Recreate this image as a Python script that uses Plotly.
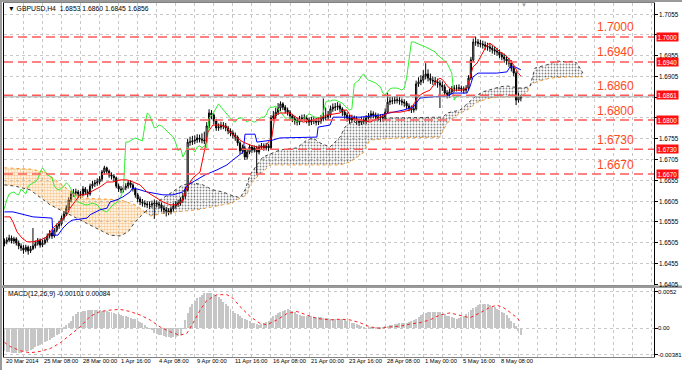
import plotly.graph_objects as go

# ---------------- data ----------------
OPEN = [1.6503,1.6507,1.6511,1.6516,1.6509,1.6514,1.6504,1.6497,1.6492,1.6487,
        1.6494,1.6485,1.6490,1.6497,1.6502,1.6511,1.6499,1.6504,1.6511,1.6521,
        1.6528,1.6521,1.6535,1.6545,1.6550,1.6564,1.6574,1.6588,1.6608,1.6622,
        1.6625,1.6627,1.6622,1.6620,1.6634,1.6627,1.6622,1.6641,1.6646,1.6649,
        1.6651,1.6658,1.6675,1.6685,1.6677,1.6668,1.6665,1.6661,1.6641,1.6634,
        1.6632,1.6637,1.6641,1.6649,1.6644,1.6634,1.6620,1.6610,1.6603,1.6600,
        1.6598,1.6596,1.6596,1.6598,1.6600,1.6598,1.6596,1.6588,1.6584,1.6581,
        1.6579,1.6586,1.6593,1.6598,1.6600,1.6608,1.6617,1.6632,1.6747,1.6747,
        1.6750,1.6752,1.6757,1.6754,1.6752,1.6750,1.6786,1.6817,1.6812,1.6798,
        1.6781,1.6783,1.6788,1.6786,1.6781,1.6774,1.6769,1.6764,1.6759,1.6745,
        1.6726,1.6733,1.6711,1.6723,1.6735,1.6728,1.6733,1.6723,1.6735,1.6738,
        1.6733,1.6738,1.6733,1.6805,1.6810,1.6819,1.6829,1.6839,1.6831,1.6824,
        1.6819,1.6810,1.6803,1.6798,1.6795,1.6803,1.6805,1.6805,1.6800,1.6795,
        1.6800,1.6798,1.6795,1.6798,1.6803,1.6807,1.6807,1.6812,1.6827,1.6831,
        1.6831,1.6834,1.6827,1.6819,1.6812,1.6805,1.6800,1.6805,1.6803,1.6798,
        1.6795,1.6800,1.6798,1.6805,1.6810,1.6815,1.6812,1.6807,1.6807,1.6805,
        1.6807,1.6819,1.6843,1.6846,1.6846,1.6848,1.6848,1.6846,1.6843,1.6841,
        1.6834,1.6829,1.6824,1.6827,1.6887,1.6892,1.6896,1.6906,1.6911,1.6901,
        1.6896,1.6894,1.6892,1.6889,1.6884,1.6880,1.6865,1.6860,1.6868,1.6875,
        1.6877,1.6877,1.6877,1.6875,1.6872,1.6877,1.6901,1.6945,1.6988,1.6988,
        1.6985,1.6983,1.6981,1.6978,1.6976,1.6973,1.6969,1.6966,1.6964,1.6957,
        1.6952,1.6947,1.6942,1.6937,1.6925,1.6913,1.6848,1.6853]
HIGH = [1.6515,1.6518,1.6524,1.6522,1.6519,1.6518,1.6510,1.6503,1.6499,1.6500,
        1.6498,1.6497,1.6540,1.6510,1.6516,1.6515,1.6512,1.6517,1.6527,1.6535,
        1.6533,1.6540,1.6551,1.6558,1.6570,1.6580,1.6595,1.6614,1.6630,1.6634,
        1.6635,1.6632,1.6629,1.6641,1.6639,1.6633,1.6647,1.6654,1.6656,1.6660,
        1.6665,1.6680,1.6690,1.6688,1.6681,1.6674,1.6670,1.6664,1.6647,1.6641,
        1.6644,1.6648,1.6656,1.6655,1.6648,1.6638,1.6625,1.6616,1.6610,1.6607,
        1.6605,1.6604,1.6606,1.6609,1.6607,1.6604,1.6601,1.6594,1.6591,1.6588,
        1.6592,1.6600,1.6605,1.6608,1.6614,1.6624,1.6640,1.6755,1.6760,1.6762,
        1.6763,1.6766,1.6765,1.6768,1.6772,1.6795,1.6826,1.6824,1.6816,1.6803,
        1.6792,1.6796,1.6795,1.6793,1.6786,1.6780,1.6775,1.6770,1.6763,1.6749,
        1.6741,1.6738,1.6729,1.6742,1.6740,1.6739,1.6738,1.6741,1.6745,1.6744,
        1.6745,1.6743,1.6812,1.6822,1.6830,1.6841,1.6845,1.6843,1.6836,1.6830,
        1.6824,1.6815,1.6810,1.6806,1.6810,1.6813,1.6814,1.6811,1.6806,1.6808,
        1.6809,1.6805,1.6806,1.6812,1.6852,1.6830,1.6822,1.6835,1.6840,1.6841,
        1.6843,1.6840,1.6831,1.6824,1.6818,1.6812,1.6813,1.6811,1.6809,1.6804,
        1.6808,1.6807,1.6812,1.6817,1.6823,1.6821,1.6818,1.6816,1.6814,1.6815,
        1.6828,1.6866,1.6855,1.6856,1.6857,1.6858,1.6856,1.6852,1.6850,1.6846,
        1.6840,1.6835,1.6836,1.6895,1.6903,1.6908,1.6920,1.6937,1.6922,1.6912,
        1.6905,1.6904,1.6900,1.6896,1.6893,1.6886,1.6872,1.6876,1.6882,1.6884,
        1.6885,1.6886,1.6883,1.6881,1.6884,1.6908,1.6952,1.6996,1.7001,1.6995,
        1.6993,1.6991,1.6989,1.6986,1.6984,1.6980,1.6977,1.6974,1.6970,1.6964,
        1.6960,1.6955,1.6950,1.6944,1.6931,1.6918,1.6866,1.6860]
LOW = [1.6496,1.6501,1.6506,1.6503,1.6502,1.6498,1.6489,1.6485,1.6478,1.6482,
       1.6476,1.6480,1.6487,1.6491,1.6498,1.6493,1.6494,1.6500,1.6506,1.6515,
       1.6514,1.6517,1.6530,1.6538,1.6546,1.6558,1.6569,1.6583,1.6602,1.6615,
       1.6618,1.6612,1.6611,1.6616,1.6620,1.6614,1.6618,1.6635,1.6639,1.6642,
       1.6645,1.6652,1.6668,1.6670,1.6661,1.6657,1.6652,1.6636,1.6627,1.6624,
       1.6626,1.6631,1.6635,1.6637,1.6628,1.6613,1.6602,1.6595,1.6592,1.6590,
       1.6588,1.6586,1.6589,1.6562,1.6590,1.6587,1.6580,1.6574,1.6568,1.6571,
       1.6573,1.6580,1.6587,1.6591,1.6594,1.6601,1.6610,1.6628,1.6738,1.6740,
       1.6742,1.6745,1.6746,1.6744,1.6742,1.6746,1.6780,1.6802,1.6790,1.6774,
       1.6774,1.6777,1.6778,1.6773,1.6766,1.6761,1.6756,1.6750,1.6738,1.6718,
       1.6719,1.6704,1.6705,1.6718,1.6721,1.6722,1.6668,1.6717,1.6728,1.6726,
       1.6727,1.6725,1.6729,1.6798,1.6803,1.6812,1.6822,1.6824,1.6816,1.6811,
       1.6802,1.6795,1.6789,1.6787,1.6788,1.6796,1.6797,1.6792,1.6786,1.6788,
       1.6790,1.6787,1.6788,1.6791,1.6797,1.6799,1.6800,1.6806,1.6820,1.6822,
       1.6824,1.6819,1.6810,1.6803,1.6796,1.6791,1.6793,1.6795,1.6789,1.6786,
       1.6788,1.6790,1.6791,1.6798,1.6803,1.6804,1.6799,1.6798,1.6796,1.6797,
       1.6800,1.6815,1.6836,1.6838,1.6839,1.6840,1.6837,1.6835,1.6832,1.6826,
       1.6821,1.6817,1.6818,1.6823,1.6880,1.6884,1.6889,1.6898,1.6893,1.6887,
       1.6885,1.6883,1.6878,1.6829,1.6870,1.6856,1.6852,1.6854,1.6862,1.6868,
       1.6869,1.6870,1.6867,1.6864,1.6866,1.6872,1.6896,1.6940,1.6979,1.6976,
       1.6975,1.6972,1.6969,1.6967,1.6964,1.6960,1.6957,1.6955,1.6949,1.6944,
       1.6938,1.6933,1.6928,1.6917,1.6905,1.6836,1.6842,1.6845]
CLOSE = [1.6507,1.6511,1.6516,1.6509,1.6514,1.6504,1.6497,1.6492,1.6487,1.6494,
         1.6485,1.6490,1.6497,1.6502,1.6511,1.6499,1.6504,1.6511,1.6521,1.6528,
         1.6521,1.6535,1.6545,1.6550,1.6564,1.6574,1.6588,1.6608,1.6622,1.6625,
         1.6627,1.6622,1.6620,1.6634,1.6627,1.6622,1.6641,1.6646,1.6649,1.6651,
         1.6658,1.6675,1.6685,1.6677,1.6668,1.6665,1.6661,1.6641,1.6634,1.6632,
         1.6637,1.6641,1.6649,1.6644,1.6634,1.6620,1.6610,1.6603,1.6600,1.6598,
         1.6596,1.6596,1.6598,1.6600,1.6598,1.6596,1.6588,1.6584,1.6581,1.6579,
         1.6586,1.6593,1.6598,1.6600,1.6608,1.6617,1.6632,1.6747,1.6747,1.6750,
         1.6752,1.6757,1.6754,1.6752,1.6750,1.6786,1.6817,1.6812,1.6798,1.6781,
         1.6783,1.6788,1.6786,1.6781,1.6774,1.6769,1.6764,1.6759,1.6745,1.6726,
         1.6733,1.6711,1.6723,1.6735,1.6728,1.6733,1.6723,1.6735,1.6738,1.6733,
         1.6738,1.6733,1.6805,1.6810,1.6819,1.6829,1.6839,1.6831,1.6824,1.6819,
         1.6810,1.6803,1.6798,1.6795,1.6803,1.6805,1.6805,1.6800,1.6795,1.6800,
         1.6798,1.6795,1.6798,1.6803,1.6807,1.6807,1.6812,1.6827,1.6831,1.6831,
         1.6834,1.6827,1.6819,1.6812,1.6805,1.6800,1.6805,1.6803,1.6798,1.6795,
         1.6800,1.6798,1.6805,1.6810,1.6815,1.6812,1.6807,1.6807,1.6805,1.6807,
         1.6819,1.6843,1.6846,1.6846,1.6848,1.6848,1.6846,1.6843,1.6841,1.6834,
         1.6829,1.6824,1.6827,1.6887,1.6892,1.6896,1.6906,1.6911,1.6901,1.6896,
         1.6894,1.6892,1.6889,1.6884,1.6880,1.6865,1.6860,1.6868,1.6875,1.6877,
         1.6877,1.6877,1.6875,1.6872,1.6877,1.6901,1.6945,1.6988,1.6988,1.6985,
         1.6983,1.6981,1.6978,1.6976,1.6973,1.6969,1.6966,1.6964,1.6957,1.6952,
         1.6947,1.6942,1.6937,1.6925,1.6913,1.6848,1.6858,1.6856]

# Tenkan-sen (red) vertices: bar index, price
TENKAN_BARS = [0,2.4,3.6,5.3,7.4,9.5,12,15,17.9,20.4,22.5,26.3,27.6,29.7,31.8,33.9,36,38.1,40.2,43.1,
               45.6,48.6,51.5,54,57,59.9,64.1,66.6,69.6,72.5,74.6,76.7,79.2,82.2,84.3,85.5,87.6,90.6,93.5,94.8,
               97.7,100.3,103.2,106.1,109.5,112.4,113.7,115.8,120,124.2,125.5,129.7,132.6,135.5,141,142.3,143.9,146,149.4,153.6,
               157.8,162,166.2,170.4,172.5,173.8,175.9,178.8,181.8,183,184.3,186.4,188.5,192.3,194.4,195.6,196.9,198.6,200.7,202.8,
               204,206.1,208.2,210.3,212.4,214.5,215.8,217]
TENKAN_VALUES = [1.6567,1.6567,1.6555,1.6531,1.6516,1.6507,1.6507,1.6511,1.6519,1.6540,1.6552,1.6572,1.6588,1.6603,1.6620,1.6620,1.6627,1.6632,1.6639,1.6651,
                 1.6651,1.6656,1.6656,1.6651,1.6644,1.6627,1.6612,1.6603,1.6596,1.6596,1.6603,1.6637,1.6661,1.6675,1.6733,1.6771,1.6788,1.6788,1.6783,1.6771,
                 1.6757,1.6747,1.6740,1.6735,1.6735,1.6759,1.6812,1.6817,1.6817,1.6800,1.6795,1.6800,1.6805,1.6812,1.6817,1.6824,1.6824,1.6805,1.6800,1.6795,
                 1.6807,1.6819,1.6819,1.6824,1.6843,1.6856,1.6865,1.6872,1.6896,1.6901,1.6896,1.6880,1.6872,1.6872,1.6877,1.6904,1.6928,1.6937,1.6961,1.6981,
                 1.6985,1.6976,1.6964,1.6957,1.6945,1.6928,1.6913,1.6906]

# Kijun-sen (blue) vertices
KIJUN_BARS = [0,3.6,12,20,20.4,22.5,24.6,26.7,28.4,31.8,34.7,36,40.2,43.1,44.4,47.3,49.8,52.8,54,57,
              59.9,66.6,70.8,75,77.1,79.2,82.2,84.3,89.3,93.5,96,100.3,101.1,105.3,106.1,112.9,115.8,131.3,131.8,136.8,
              138.1,149.4,157.8,162,167.5,171.7,174.6,180.1,186,188.5,194.4,195.6,196.9,199,206.9,211.2,212.4,214.5,217]
KIJUN_VALUES = [1.6579,1.6579,1.6567,1.6564,1.6523,1.6523,1.6540,1.6552,1.6559,1.6562,1.6564,1.6572,1.6584,1.6588,1.6603,1.6608,1.6615,1.6627,1.6637,1.6632,
                1.6627,1.6620,1.6620,1.6627,1.6644,1.6651,1.6661,1.6668,1.6680,1.6692,1.6704,1.6723,1.6766,1.6766,1.6747,1.6752,1.6757,1.6759,1.6783,1.6788,
                1.6807,1.6807,1.6812,1.6817,1.6824,1.6831,1.6853,1.6856,1.6858,1.6865,1.6865,1.6880,1.6904,1.6913,1.6913,1.6916,1.6928,1.6928,1.6921]

CHIKOU_SHIFT = 26

# Kumo, bearish part (Span B above Span A)
KUMO_DN_B_BARS = [0,10.8,17.1,21.3,25.5,29.7,33.9,40.2,48.6,54.9,59.1]
KUMO_DN_B_VALUES = [1.6685,1.6682,1.6675,1.6656,1.6637,1.6620,1.6612,1.6610,1.6608,1.6596,1.6579]
KUMO_DN_A_BARS = [0,4.5,10.8,15,19.2,23.4,27.6,31.8,36,40.2,44.4,48.6,52,54.9,59.1]
KUMO_DN_A_VALUES = [1.6644,1.6641,1.6632,1.6615,1.6596,1.6584,1.6572,1.6560,1.6547,1.6535,1.6523,1.6521,1.6531,1.6555,1.6579]
# Kumo, bullish part (Span A above Span B)
KUMO_UP_A_BARS = [59.1,61.2,66.6,70.8,75,79.2,83.4,87.6,91.8,94.8,99,101.1,103.2,106.1,108.6,115.8,122.9,127.1,129.7,132.6,
                  136.8,141,143.1,145.2,149.4,153.6,160.8,173.4,184.3,186,191.4,198.6,201.1,208.2,211.2,216.6,220.8,222.9,228,232.2,
                  236.4,238.9,240.6,243.1]
KUMO_UP_A_VALUES = [1.6579,1.6591,1.6612,1.6627,1.6644,1.6649,1.6644,1.6632,1.6627,1.6620,1.6613,1.6632,1.6668,1.6692,1.6711,1.6728,1.6733,1.6752,1.6757,1.6745,
                    1.6735,1.6759,1.6783,1.6793,1.6795,1.6798,1.6805,1.6807,1.6807,1.6817,1.6824,1.6860,1.6868,1.6880,1.6882,1.6877,1.6880,1.6925,1.6933,1.6942,
                    1.6940,1.6942,1.6937,1.6913]
KUMO_UP_B_BARS = [59.1,61.2,66.6,80.9,91.8,95.6,97.7,101.9,103.2,106.1,108.6,111.6,141,145.2,150.7,153.6,164.9,183,186,191.4,
                  194.4,198.6,204,209.5,215.4,219.6,220.8,223.7,229.3,236.4,243.1]
KUMO_UP_B_VALUES = [1.6579,1.6569,1.6576,1.6584,1.6596,1.6600,1.6608,1.6620,1.6644,1.6663,1.6675,1.6692,1.6692,1.6699,1.6721,1.6752,1.6757,1.6759,1.6793,1.6817,
                    1.6824,1.6843,1.6853,1.6856,1.6856,1.6865,1.6884,1.6892,1.6901,1.6904,1.6904]

MACD_HIST = [-0.0033,-0.0034,-0.0034,-0.0035,-0.0035,-0.0035,-0.0035,-0.0035,-0.0034,-0.0033,
             -0.0032,-0.0031,-0.0029,-0.0027,-0.0025,-0.0024,-0.0022,-0.0020,-0.0018,-0.0016,
             -0.0014,-0.0012,-0.0010,-0.0008,-0.0005,0.0001,0.0005,0.0008,0.0011,0.0017,
             0.0021,0.0023,0.0024,0.0025,0.0025,0.0026,0.0026,0.0026,0.0026,0.0026,
             0.0026,0.0025,0.0025,0.0025,0.0024,0.0023,0.0022,0.0021,0.0020,0.0019,
             0.0018,0.0017,0.0016,0.0015,0.0014,0.0013,0.0011,0.0009,0.0007,0.0005,
             0.0002,0.0000,-0.0003,-0.0006,-0.0008,-0.0009,-0.0010,-0.0011,-0.0012,-0.0013,
             -0.0014,-0.0013,-0.0012,-0.0011,-0.0009,-0.0001,0.0012,0.0022,0.0031,0.0035,
             0.0039,0.0043,0.0045,0.0048,0.0050,0.0050,0.0051,0.0050,0.0049,0.0047,
             0.0045,0.0042,0.0038,0.0035,0.0032,0.0028,0.0025,0.0022,0.0020,0.0017,
             0.0015,0.0014,0.0012,0.0010,0.0008,0.0007,0.0006,0.0005,0.0006,0.0007,
             0.0009,0.0011,0.0015,0.0017,0.0019,0.0022,0.0024,0.0025,0.0026,0.0027,
             0.0026,0.0025,0.0023,0.0021,0.0019,0.0018,0.0018,0.0017,0.0017,0.0017,
             0.0016,0.0016,0.0016,0.0016,0.0015,0.0015,0.0015,0.0014,0.0014,0.0014,
             0.0014,0.0014,0.0013,0.0012,0.0011,0.0010,0.0008,0.0007,0.0006,0.0005,
             0.0004,0.0001,0.0000,0.0001,0.0002,0.0002,0.0002,0.0002,0.0002,0.0002,
             0.0003,0.0004,0.0005,0.0005,0.0006,0.0006,0.0007,0.0007,0.0008,0.0008,
             0.0009,0.0010,0.0012,0.0014,0.0016,0.0019,0.0021,0.0022,0.0023,0.0024,
             0.0024,0.0024,0.0024,0.0023,0.0021,0.0020,0.0018,0.0017,0.0016,0.0015,
             0.0014,0.0015,0.0016,0.0017,0.0020,0.0023,0.0026,0.0029,0.0031,0.0034,
             0.0035,0.0035,0.0035,0.0035,0.0033,0.0031,0.0030,0.0028,0.0026,0.0024,
             0.0022,0.0019,0.0015,0.0011,0.0008,0.0003,-0.0004,-0.0010]
SIGNAL_BARS = [0,2.4,6.6,10.8,15,19.2,23.4,27.6,31.8,36,40.2,44.4,48.6,52.8,57,61.2,65.4,69.6,73.8,76.7,
               79.2,82.2,85.1,89.3,93.5,96,99,103.2,107.4,110.3,114.5,118.7,122.9,127.1,131.3,136.8,141,145.2,149.4,153.6,
               157.8,162,166.2,170.4,174.6,178.8,183,187.2,191.4,195.6,199.8,204,206.9,209.5,212.4,215.4,217]
SIGNAL_VALUES = [-0.0020,-0.0026,-0.0032,-0.0035,-0.0033,-0.0029,-0.0021,-0.0010,0.0002,0.0017,0.0024,0.0026,0.0027,0.0024,0.0019,0.0012,0.0002,-0.0005,-0.0010,-0.0007,
                 0.0007,0.0026,0.0040,0.0048,0.0048,0.0043,0.0031,0.0017,0.0007,0.0005,0.0012,0.0021,0.0024,0.0019,0.0014,0.0012,0.0013,0.0012,0.0008,0.0002,
                 0.0000,0.0002,0.0003,0.0006,0.0008,0.0012,0.0019,0.0022,0.0019,0.0015,0.0022,0.0030,0.0033,0.0030,0.0023,0.0015,0.0008]

LEVELS = [1.7000, 1.6940, 1.6860, 1.6800, 1.6730, 1.6670]
LEVEL_TEXT = ["1.7000", "1.6940", "1.6860", "1.6800", "1.6730", "1.6670"]
LEVEL_BOX_TEXT = ["1.7000", "1.6940", "1.6861", "1.6800", "1.6730", "1.6670"]
BID = 1.6856
PRICE_TICKS = [1.6405,1.6455,1.6505,1.6555,1.6605,1.6655,1.6705,1.6755,1.6805,1.6855,1.6905,1.6955,1.7005,1.7055]
PRICE_TICK_TEXT = ["1.6405","1.6455","1.6505","1.6555","1.6605","1.6655","1.6705","1.6755","","","1.6905","1.6955","","1.7055"]
MACD_TICKS = [0.0052, 0.0, -0.00381]
MACD_TICK_TEXT = ["0.0052", "0.00", "-0.00381"]
DATE_BARS = [0,16,32,48,64,80,96,112,128,144,160,176,192,208]
DATE_TEXT = ["20 Mar 2014","25 Mar 08:00","28 Mar 00:00","1 Apr 16:00","4 Apr 08:00","9 Apr 00:00",
             "11 Apr 16:00","16 Apr 08:00","21 Apr 00:00","23 Apr 16:00","28 Apr 08:00","1 May 00:00",
             "5 May 16:00","8 May 08:00"]
HEADER = "GBPUSD,H4  1.6853 1.6860 1.6845 1.6856"
MACD_HEADER = "MACD(12,26,9) -0.00101 0.00084"

N = len(CLOSE)
assert len(OPEN) == N and len(HIGH) == N and len(LOW) == N and len(MACD_HIST) == N
assert len(TENKAN_BARS) == len(TENKAN_VALUES)
assert len(KIJUN_BARS) == len(KIJUN_VALUES)
assert len(KUMO_UP_A_BARS) == len(KUMO_UP_A_VALUES)
assert len(KUMO_UP_B_BARS) == len(KUMO_UP_B_VALUES)
assert len(KUMO_DN_A_BARS) == len(KUMO_DN_A_VALUES)
assert len(KUMO_DN_B_BARS) == len(KUMO_DN_B_VALUES)
assert len(SIGNAL_BARS) == len(SIGNAL_VALUES)

# ---------------- layout geometry (pixels) ----------------
W, H = 682, 370
PX_LEFT, PX_RIGHT = 4, 654
MAIN_TOP, MAIN_BOT = 3, 285
SUB_TOP, SUB_BOT = 288, 357
BAR_PX = 2.38
BAR0_PX = 4.4
X_RANGE = [(PX_LEFT - BAR0_PX) / BAR_PX, (PX_RIGHT - BAR0_PX) / BAR_PX]
PRICE_PER_PX = 0.0002407
PRICE_AT_0 = 1.7089
Y_RANGE = [PRICE_AT_0 - PRICE_PER_PX * MAIN_BOT, PRICE_AT_0 - PRICE_PER_PX * MAIN_TOP]
MACD_ZERO_PX = 328.3
MACD_PER_PX = 1 / 7000
Y2_RANGE = [-(SUB_BOT - MACD_ZERO_PX) * MACD_PER_PX, (MACD_ZERO_PX - SUB_TOP) * MACD_PER_PX]


def fx(px):
    return px / W


def fy(py):
    return 1 - py / H


FONT = "Liberation Sans"
fig = go.Figure()

# Kumo fills
def polygon(ax, ay, bx, by):
    return list(ax) + list(bx)[::-1], list(ay) + list(by)[::-1]

px_, py_ = polygon(KUMO_DN_B_BARS, KUMO_DN_B_VALUES, KUMO_DN_A_BARS, KUMO_DN_A_VALUES)
fig.add_trace(go.Scatter(x=px_, y=py_, mode="lines", line=dict(width=0), fill="toself",
                         fillcolor="rgba(0,0,0,0)",
                         fillpattern=dict(shape=".", fgcolor="#F39A30", bgcolor="rgba(255,255,255,0)",
                                          size=3, solidity=0.6),
                         hoverinfo="skip", showlegend=False))
px_, py_ = polygon(KUMO_UP_A_BARS, KUMO_UP_A_VALUES, KUMO_UP_B_BARS, KUMO_UP_B_VALUES)
fig.add_trace(go.Scatter(x=px_, y=py_, mode="lines", line=dict(width=0), fill="toself",
                         fillcolor="rgba(0,0,0,0)",
                         fillpattern=dict(shape=".", fgcolor="#111111", bgcolor="rgba(255,255,255,0)",
                                          size=3, solidity=0.3),
                         hoverinfo="skip", showlegend=False))
# Kumo edges
for bx, by, col in [(KUMO_DN_B_BARS, KUMO_DN_B_VALUES, "#F39A30"),
                    (KUMO_UP_B_BARS, KUMO_UP_B_VALUES, "#F39A30"),
                    (KUMO_DN_A_BARS, KUMO_DN_A_VALUES, "#444444"),
                    (KUMO_UP_A_BARS, KUMO_UP_A_VALUES, "#444444")]:
    fig.add_trace(go.Scatter(x=bx, y=by, mode="lines", line=dict(color=col, width=1, dash="dot"),
                             hoverinfo="skip", showlegend=False))

# Chikou span (close shifted back)
fig.add_trace(go.Scatter(x=[i - CHIKOU_SHIFT for i in range(N)], y=CLOSE, mode="lines",
                         line=dict(color="#33EE33", width=1), hoverinfo="skip", showlegend=False))
# Kijun / Tenkan
fig.add_trace(go.Scatter(x=KIJUN_BARS, y=KIJUN_VALUES, mode="lines",
                         line=dict(color="#0000FF", width=1), hoverinfo="skip", showlegend=False))
fig.add_trace(go.Scatter(x=TENKAN_BARS, y=TENKAN_VALUES, mode="lines",
                         line=dict(color="#FF0000", width=1), hoverinfo="skip", showlegend=False))

# Candles
fig.add_trace(go.Candlestick(x=list(range(N)), open=OPEN, high=HIGH, low=LOW, close=CLOSE,
                             increasing=dict(line=dict(color="black", width=1), fillcolor="white"),
                             decreasing=dict(line=dict(color="black", width=1), fillcolor="black"),
                             whiskerwidth=0, hoverinfo="skip", showlegend=False))

# MACD
fig.add_trace(go.Bar(x=list(range(N)), y=MACD_HIST, width=0.42, marker=dict(color="#C6C6C6", line=dict(width=0)),
                     xaxis="x2", yaxis="y2", hoverinfo="skip", showlegend=False))
fig.add_trace(go.Scatter(x=SIGNAL_BARS, y=SIGNAL_VALUES, mode="lines", line=dict(color="#FF2020", width=1, dash="dot"),
                         xaxis="x2", yaxis="y2", hoverinfo="skip", showlegend=False))

shapes = []
for lv in LEVELS:
    shapes.append(dict(type="line", xref="x domain", yref="y", x0=0, x1=1, y0=lv, y1=lv,
                       line=dict(color="#FF5A5A", width=1.5, dash="9px,5px")))
shapes.append(dict(type="line", xref="x domain", yref="y", x0=0, x1=1, y0=BID, y1=BID,
                   line=dict(color="#A8A8A8", width=1)))
# separator between panes
shapes.append(dict(type="rect", xref="paper", yref="paper", x0=0, x1=1, y0=fy(288), y1=fy(285.5),
                   fillcolor="#9A9A9A", line=dict(width=0)))
# window frame
shapes.append(dict(type="line", xref="paper", yref="paper", x0=fx(1), x1=fx(1), y0=0, y1=1,
                   line=dict(color="#9A9A9A", width=2)))
shapes.append(dict(type="line", xref="paper", yref="paper", x0=0, x1=1, y0=fy(1), y1=fy(1),
                   line=dict(color="#9A9A9A", width=2)))

ann = []
ann.append(dict(xref="paper", yref="paper", x=fx(6), y=fy(8), xanchor="left", yanchor="middle",
                text="▼ " + HEADER, showarrow=False, font=dict(family=FONT, size=6.8, color="black")))
ann.append(dict(xref="paper", yref="paper", x=fx(6), y=fy(293.5), xanchor="left", yanchor="middle",
                text=MACD_HEADER, showarrow=False, font=dict(family=FONT, size=6.8, color="black")))
ann.append(dict(xref="paper", yref="paper", x=fx(524), y=fy(5), xanchor="center", yanchor="middle",
                text="▼", showarrow=False, font=dict(family=FONT, size=6, color="#A0A0A0")))
for lv, t in zip(LEVELS, LEVEL_TEXT):
    ann.append(dict(xref="paper", yref="y", x=fx(615.5), y=lv, yshift=9.5, xanchor="center", yanchor="middle",
                    text=t, showarrow=False, font=dict(family=FONT, size=12, color="#FF4A1A")))
# right price scale labels drawn as text next to the scale
for v, t in zip(PRICE_TICKS, PRICE_TICK_TEXT):
    if t:
        ann.append(dict(xref="paper", yref="y", x=fx(657), y=v, xanchor="left", yanchor="middle",
                        text=t, showarrow=False, font=dict(family=FONT, size=6.3, color="black")))
for v, t in zip(MACD_TICKS, MACD_TICK_TEXT):
    ann.append(dict(xref="paper", yref="y2", x=fx(655.5), y=v, xanchor="left", yanchor="middle",
                    text=t, showarrow=False, font=dict(family=FONT, size=6, color="black")))
for lv, t in zip(LEVELS, LEVEL_BOX_TEXT):
    ann.append(dict(xref="paper", yref="y", x=fx(655.5), y=lv, xanchor="left", yanchor="middle",
                    text=t, showarrow=False, bgcolor="#FF1010", borderpad=0.5,
                    font=dict(family=FONT, size=6.3, color="white")))
for b, t in zip(DATE_BARS, DATE_TEXT):
    ann.append(dict(xref="x2", yref="paper", x=b, y=fy(361), xanchor="left", yanchor="middle",
                    text=t, showarrow=False, font=dict(family=FONT, size=5.8, color="black")))

grid_bars = list(range(0, 280, 8))
fig.update_layout(
    width=W, height=H, margin=dict(l=0, r=0, t=0, b=0),
    paper_bgcolor="white", plot_bgcolor="white", showlegend=False,
    shapes=shapes, annotations=ann, bargap=0,
    xaxis=dict(domain=[fx(PX_LEFT), fx(PX_RIGHT)], range=X_RANGE, anchor="y",
               tickvals=grid_bars, showticklabels=False, ticks="",
               showgrid=True, gridcolor="#C8C8C8", griddash="dot", gridwidth=1,
               zeroline=False, showline=True, linecolor="#808080", linewidth=1, mirror=True,
               rangeslider=dict(visible=False), fixedrange=True),
    yaxis=dict(domain=[fy(MAIN_BOT), fy(MAIN_TOP)], range=Y_RANGE, side="right", anchor="x",
               tickvals=PRICE_TICKS, showticklabels=False, ticks="outside", ticklen=3,
               tickcolor="black", automargin=False,
               showgrid=True, gridcolor="#C8C8C8", griddash="dot", gridwidth=1,
               zeroline=False, showline=True, linecolor="black", linewidth=1, mirror=True),
    xaxis2=dict(domain=[fx(PX_LEFT), fx(PX_RIGHT)], range=X_RANGE, anchor="y2", matches="x",
                tickvals=grid_bars, showticklabels=False, ticks="",
                showgrid=True, gridcolor="#C8C8C8", griddash="dot", gridwidth=1,
                zeroline=False, showline=True, linecolor="#808080", linewidth=1, mirror=True),
    yaxis2=dict(domain=[fy(SUB_BOT), fy(SUB_TOP)], range=Y2_RANGE, side="right", anchor="x2",
                tickvals=MACD_TICKS, showticklabels=False, ticks="outside", ticklen=3,
                tickcolor="black", automargin=False,
                showgrid=True, gridcolor="#C8C8C8", griddash="dot", gridwidth=1,
                zeroline=False, showline=True, linecolor="black", linewidth=1, mirror=True),
)

fig.write_html("out.html", config={"displayModeBar": False},
               post_script="document.body.style.margin='0';document.body.style.overflow='hidden';")
